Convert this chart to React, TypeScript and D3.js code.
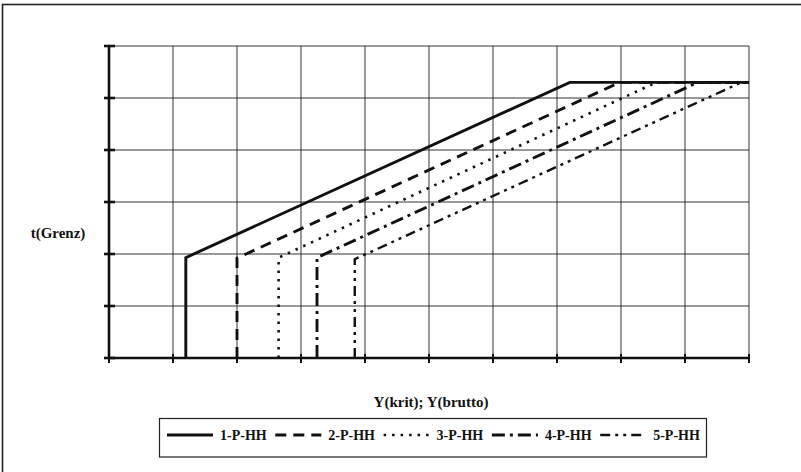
import React from "react";
import * as d3 from "d3";

const seriesNames = ["1-P-HH", "2-P-HH", "3-P-HH", "4-P-HH", "5-P-HH"];
const seriesX = [
  [1.2, 1.2, 7.2, 10],
  [2.0, 2.0, 7.98, 10],
  [2.65, 2.65, 8.55, 10],
  [3.25, 3.25, 9.2, 10],
  [3.84, 3.84, 9.88, 10],
];
const seriesY = [
  [0, 1.93, 5.3, 5.3],
  [0, 1.92, 5.3, 5.3],
  [0, 1.93, 5.3, 5.3],
  [0, 1.93, 5.3, 5.3],
  [0, 1.9, 5.3, 5.3],
];
const xTitle = "Y(krit); Y(brutto)";
const yTitle = "t(Grenz)";

const dashes = ["none", "11,7", "2.5,6", "13,5,3,5", "10,5,3,5,3,5"];
const widths = [2.9, 2.9, 2.6, 2.9, 2.4];

const W = 801;
const H = 472;
const FONT = "'Liberation Serif', 'Times New Roman', serif";

export default function App() {
  const x = d3.scaleLinear().domain([0, 10]).range([109, 749]);
  const y = d3.scaleLinear().domain([0, 6]).range([358, 46]);
  const xt = x.ticks(10);
  const yt = y.ticks(6);
  const line = d3
    .line<[number, number]>()
    .x((d) => x(d[0]))
    .y((d) => y(d[1]));

  const legX0 = 167;
  const legStep = 108.3;
  const legY = 435;

  return (
    <svg
      width={W}
      height={H}
      style={{ position: "absolute", left: 0, top: 0, background: "#fff" }}
    >
      <rect x={2.5} y={4.5} width={W + 10} height={H + 10} fill="#fff" stroke="#222" strokeWidth={1.6} />
      {/* grid */}
      {xt.map((t) => (
        <line key={"gx" + t} x1={x(t)} x2={x(t)} y1={y(6)} y2={y(0)} stroke="#333" strokeWidth={1} />
      ))}
      {yt.map((t) => (
        <line key={"gy" + t} x1={x(0)} x2={x(10)} y1={y(t)} y2={y(t)} stroke="#333" strokeWidth={1} />
      ))}
      {/* axes */}
      <line x1={x(0)} x2={x(0)} y1={y(6) - 1} y2={y(0)} stroke="#111" strokeWidth={2.6} />
      <line x1={x(0) - 1} x2={x(10)} y1={y(0)} y2={y(0)} stroke="#111" strokeWidth={2.6} />
      {yt.map((t) => (
        <line key={"ty" + t} x1={x(0) - 5} x2={x(0) + 6} y1={y(t)} y2={y(t)} stroke="#111" strokeWidth={2.6} />
      ))}
      {xt.map((t) => (
        <line key={"tx" + t} x1={x(t)} x2={x(t)} y1={y(0) - 4} y2={y(0) + 5} stroke="#111" strokeWidth={2} />
      ))}
      {/* series */}
      {seriesNames.map((n, i) => (
        <path
          key={n}
          d={line(seriesX[i].map((v, j) => [v, seriesY[i][j]] as [number, number])) || ""}
          fill="none"
          stroke="#111"
          strokeWidth={widths[i]}
          strokeDasharray={dashes[i]}
          strokeLinejoin="miter"
        />
      ))}
      {/* titles */}
      <text x={58} y={238} textAnchor="middle" fontFamily={FONT} fontWeight="bold" fontSize={15} fill="#111">
        {yTitle}
      </text>
      <text x={431} y={406.5} textAnchor="middle" fontFamily={FONT} fontWeight="bold" fontSize={15} fill="#111">
        {xTitle}
      </text>
      {/* legend */}
      <rect x={159.5} y={418.5} width={547} height={38.5} fill="#fff" stroke="#222" strokeWidth={1.2} />
      {seriesNames.map((n, i) => {
        const lx = legX0 + i * legStep;
        return (
          <g key={"lg" + n}>
            <line
              x1={lx}
              x2={lx + 46}
              y1={legY}
              y2={legY}
              stroke="#111"
              strokeWidth={widths[i]}
              strokeDasharray={dashes[i]}
            />
            <text x={lx + 53} y={legY + 5} fontFamily={FONT} fontWeight="bold" fontSize={14} fill="#111">
              {n}
            </text>
          </g>
        );
      })}
    </svg>
  );
}
